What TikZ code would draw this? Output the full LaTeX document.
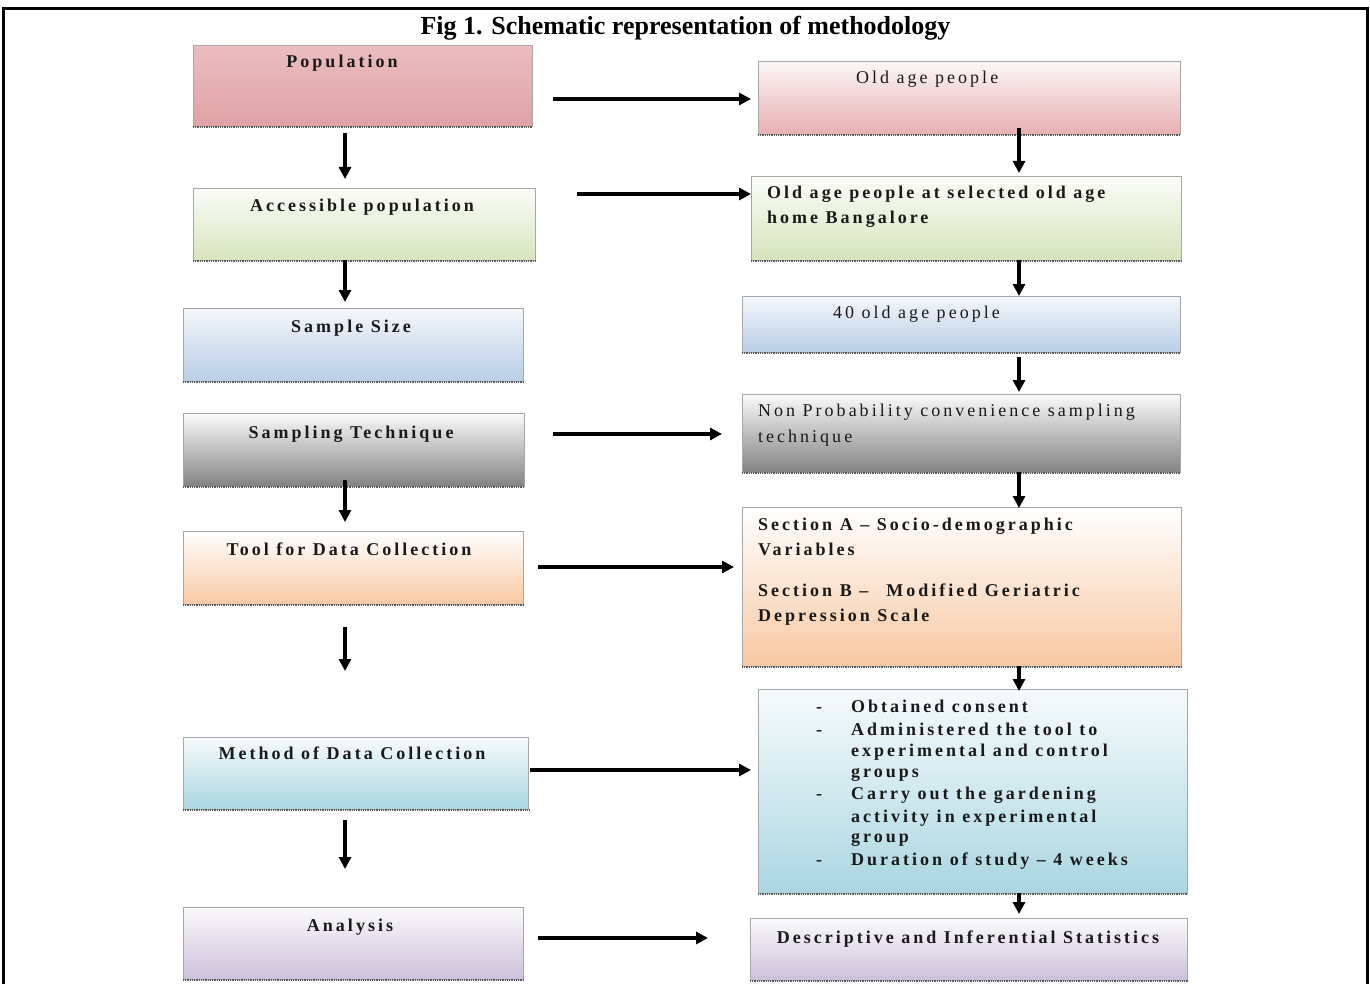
\documentclass[tikz,border=0pt]{standalone}
\usepackage{fontspec}
\setmainfont{Liberation Serif}
\newfontfamily\lsfont[LetterSpace=16.7]{Liberation Serif}
\usetikzlibrary{arrows.meta,shadings}
\definecolor{pinkT}{HTML}{EBBDC0}
\definecolor{pinkM}{HTML}{F6E2E3}
\definecolor{pinkB}{HTML}{DFA2A6}
\definecolor{pink2T}{HTML}{FCF6F6}
\definecolor{pink2B}{HTML}{E7AFB2}
\definecolor{greenT}{HTML}{FBFDF8}
\definecolor{greenB}{HTML}{D6E4BC}
\definecolor{blueT}{HTML}{F4F7FB}
\definecolor{blueB}{HTML}{B8CDE6}
\definecolor{grayT}{HTML}{FAFAFA}
\definecolor{grayB}{HTML}{828282}
\definecolor{orangeT}{HTML}{FFFFFF}
\definecolor{orangeB}{HTML}{F8C8A2}
\definecolor{cyanT}{HTML}{F6FBFC}
\definecolor{cyanB}{HTML}{AAD6E1}
\definecolor{purpT}{HTML}{FBFAFC}
\definecolor{purpB}{HTML}{CCC0DA}
\definecolor{edge}{HTML}{A8A8A8}
\definecolor{ink}{HTML}{1A1A1A}
\begin{document}
\begin{tikzpicture}[x=1pt,y=-1pt,
  box/.style={rectangle,inner sep=0pt,draw=edge,line width=0.8pt,anchor=north west},
  dotline/.style={draw=black!65,line width=1.8pt,dash pattern=on 0.9pt off 0.9pt},
  arr/.style={line width=3.3pt,-{Triangle[length=12pt,width=12pt]}},
  lt/.style={font=\lsfont\fontsize{18}{21}\selectfont\bfseries,text=ink,anchor=base,inner sep=0pt},
  rb/.style={font=\lsfont\fontsize{18}{21}\selectfont\bfseries,text=ink,anchor=base west,inner sep=0pt},
  rr/.style={font=\lsfont\fontsize{18}{21}\selectfont,text=ink,anchor=base west,inner sep=0pt}]
\useasboundingbox (0,0) rectangle (1370,984);
% frame
\draw[line width=3pt] (3.5,984) -- (3.5,9) -- (1367,9) -- (1367,984);
\node[font=\fontsize{26}{30}\selectfont\bfseries,anchor=base,inner sep=0pt] (title) at (685.5,35) {Fig 1. Schematic representation of methodology};
% left boxes
\node[box,top color=pinkT,middle color=pinkM,bottom color=pinkB,minimum width=339pt,minimum height=81pt] (pop) at (193,45) {};
\node[box,top color=greenT,bottom color=greenB,minimum width=342pt,minimum height=72pt] (acc) at (193,188) {};
\node[box,top color=blueT,bottom color=blueB,minimum width=340pt,minimum height=73pt] (ss) at (183,308) {};
\node[box,top color=grayT,bottom color=grayB,minimum width=341pt,minimum height=73pt] (st) at (183,413) {};
\node[box,top color=orangeT,bottom color=orangeB,minimum width=340pt,minimum height=73pt] (tool) at (183,531) {};
\node[box,top color=cyanT,bottom color=cyanB,minimum width=345pt,minimum height=72pt] (meth) at (183,737) {};
\node[box,top color=purpT,bottom color=purpB,minimum width=340pt,minimum height=72pt] (ana) at (183,907) {};
% right boxes
\node[box,top color=pink2T,bottom color=pink2B,minimum width=422pt,minimum height=73pt] (old) at (758,61) {};
\node[box,top color=greenT,bottom color=greenB,minimum width=430pt,minimum height=84pt] (old2) at (751,176) {};
\node[box,top color=blueT,bottom color=blueB,minimum width=438pt,minimum height=56pt] (forty) at (742,296) {};
\node[box,top color=grayT,bottom color=grayB,minimum width=438pt,minimum height=78pt] (np) at (742,394) {};
\node[box,top color=orangeT,bottom color=orangeB,minimum width=439pt,minimum height=159pt] (sec) at (742,507) {};
\node[box,top color=cyanT,bottom color=cyanB,minimum width=429pt,minimum height=204pt] (list) at (758,689) {};
\node[box,top color=purpT,bottom color=purpB,minimum width=437pt,minimum height=62pt] (desc) at (750,918) {};
\foreach \n in {pop,acc,ss,st,tool,meth,ana,old,old2,forty,np,sec,list,desc}
  \draw[dotline] (\n.south west) -- (\n.south east);
% left texts
\node[lt] (tpop) at (342,68) {Population};
\node[lt] (tacc) at (362,212) {Accessible population};
\node[lt] (tss) at (351,332) {Sample Size};
\node[lt] (tst) at (351,438) {Sampling Technique};
\node[lt] (ttool) at (349,555) {Tool for Data Collection};
\node[lt] (tmeth) at (352,759) {Method of Data Collection};
\node[lt] (tana) at (350,931) {Analysis};
% right texts
\node[rr] (told) at (856,84) {Old age people};
\node[rb] (told2a) at (767,199) {Old age people at selected old age};
\node[rb] (told2b) at (767,224) {home Bangalore};
\node[rr] (tforty) at (833,318) {40 old age people};
\node[rr] (tnpa) at (758,416) {Non Probability convenience sampling};
\node[rr] (tnpb) at (758,442) {technique};
\node[rb] (tseca) at (758,530) {Section A – Socio-demographic};
\node[rb] (tsecb) at (758,555) {Variables};
\node[rb] (tsecc) at (758,596) {Section B –\hspace{18pt}Modified Geriatric};
\node[rb] (tsecd) at (758,621) {Depression Scale};
\foreach \yy in {712,735,799,865} \node[rb] at (816,\yy) {-};
\node[rb] (l1) at (851,712) {Obtained consent};
\node[rb] (l2) at (851,735) {Administered the tool to};
\node[rb] (l3) at (851,756) {experimental and control};
\node[rb] (l4) at (851,777) {groups};
\node[rb] (l5) at (851,799) {Carry out the gardening};
\node[rb] (l6) at (851,822) {activity in experimental};
\node[rb] (l7) at (851,842) {group};
\node[rb] (l8) at (851,865) {Duration of study – 4 weeks};
\node[lt] (tdesc) at (968,943) {Descriptive and Inferential Statistics};
% arrow end points
\coordinate (h1a) at (553,99);  \coordinate (h1b) at (751,99);
\coordinate (h2a) at (577,194); \coordinate (h2b) at (751,194);
\coordinate (h3a) at (553,434); \coordinate (h3b) at (722,434);
\coordinate (h4a) at (538,567); \coordinate (h4b) at (734,567);
\coordinate (h5a) at (530,770); \coordinate (h5b) at (751,770);
\coordinate (h6a) at (538,938); \coordinate (h6b) at (708,938);
\coordinate (v1a) at (345,133); \coordinate (v1b) at (345,179);
\coordinate (v2a) at (345,260); \coordinate (v2b) at (345,302);
\coordinate (v3a) at (345,480); \coordinate (v3b) at (345,522);
\coordinate (v4a) at (345,627); \coordinate (v4b) at (345,671);
\coordinate (v5a) at (345,820); \coordinate (v5b) at (345,869);
\coordinate (w1a) at (1019,128); \coordinate (w1b) at (1019,173);
\coordinate (w2a) at (1019,260); \coordinate (w2b) at (1019,296);
\coordinate (w3a) at (1019,357); \coordinate (w3b) at (1019,392);
\coordinate (w4a) at (1019,472); \coordinate (w4b) at (1019,508);
\coordinate (w5a) at (1019,666); \coordinate (w5b) at (1019,691);
\coordinate (w6a) at (1019,893); \coordinate (w6b) at (1019,914);
\foreach \a in {h1,h2,h3,h4,h5,h6,v1,v2,v3,v4,v5,w1,w2,w3,w4,w5,w6}
  \draw[arr] (\a a) -- (\a b);
\end{tikzpicture}
\end{document}
